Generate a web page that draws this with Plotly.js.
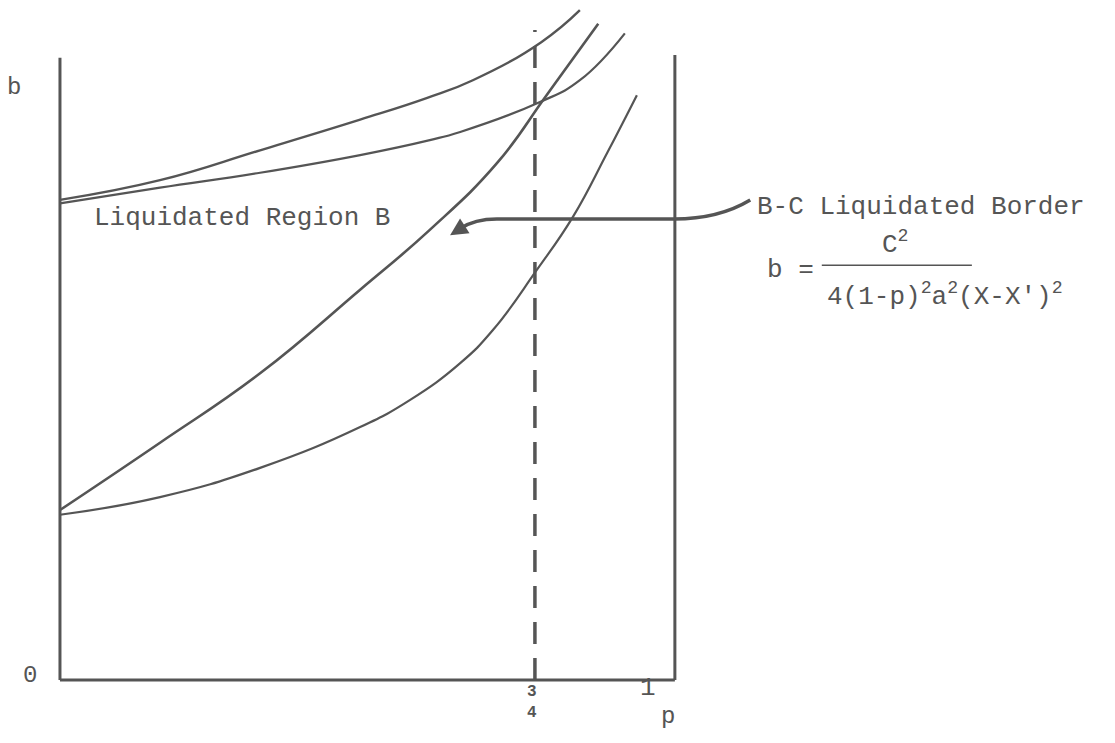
<!DOCTYPE html>
<html>
<head>
<meta charset="utf-8">
<script src="https://cdn.plot.ly/plotly-3.0.1.min.js"></script>
<style>
  html, body { margin: 0; padding: 0; background: #fff; }
  #chart { width: 1115px; height: 743px; }
</style>
</head>
<body>
<div id="chart"></div>
<script>
// schematic curves (p across, b up)
let pUpper = [0, .158, .316, .474, .580, .652, .760, .821];
let bUpper = [7.06, 7.35, 7.79, 8.24, 8.56, 8.82, 9.38, 9.85];

let pSecond = [0, .158, .316, .474, .584, .632, .758, .821, .892];
let bSecond = [7.01, 7.24, 7.46, 7.72, 7.94, 8.06, 8.50, 8.82, 9.51];

let pBorder = [0, .158, .316, .474, .584, .690, .763, .794, .850];
let bBorder = [2.50, 3.49, 4.51, 5.74, 6.62, 7.60, 8.53, 8.93, 9.65];

let pLower = [0, .158, .316, .474, .553, .632, .684, .753, .810, .864, .911];
let bLower = [2.43, 2.69, 3.12, 3.72, 4.12, 4.66, 5.15, 6.03, 6.81, 7.75, 8.60];

let pDash = 0.75;
let tickText = ['0', '3<br>4', '1'];

let ink = '#555';
let font = 'Liberation Mono, Courier New, monospace';

function curve(x, y, w) {
  return {
    x: x, y: y,
    mode: 'lines',
    type: 'scatter',
    hoverinfo: 'skip',
    line: { color: ink, width: w, shape: 'spline', smoothing: 1.3 }
  };
}

let traces = [
  curve(pUpper, bUpper, 2.4),
  curve(pSecond, bSecond, 2.2),
  curve(pBorder, bBorder, 2.6),
  curve(pLower, bLower, 2.2),
  {
    x: [pDash, pDash], y: [0, 9.56],
    mode: 'lines', type: 'scatter', hoverinfo: 'skip',
    line: { color: ink, width: 3.5, dash: '22px,14px' }
  }
];

let layout = {
  width: 1115,
  height: 743,
  margin: { l: 0, r: 0, t: 0, b: 0 },
  paper_bgcolor: '#fff',
  plot_bgcolor: '#fff',
  showlegend: false,
  xaxis: { range: [-0.0947, 1.666], visible: false, fixedrange: true },
  yaxis: { range: [-0.926, 10], visible: false, fixedrange: true },
  shapes: [
    // frame
    { type: 'line', x0: 0, x1: 0, y0: 0, y1: 9.15, line: { color: ink, width: 3 } },
    { type: 'line', x0: 0, x1: 0.971, y0: 0, y1: 0, line: { color: ink, width: 3 } },
    { type: 'line', x0: 0.971, x1: 0.971, y0: 0, y1: 9.19, line: { color: ink, width: 3 } },
    // pointer to the B-C border
    { type: 'path', path: 'M 1.09 7.06 Q 1.04 6.78 0.97 6.78 L 0.69 6.78 Q 0.655 6.78 0.632 6.64',
      line: { color: ink, width: 3.5 } },
    // fraction bar
    { type: 'line', x0: 1.203, x1: 1.44, y0: 6.10, y1: 6.10, line: { color: ink, width: 1.5 } }
  ],
  annotations: [
    { x: 0.616, y: 6.54, ax: 0.636, ay: 6.66, axref: 'x', ayref: 'y', text: '',
      showarrow: true, arrowhead: 2, arrowsize: 1, arrowwidth: 3.5, arrowcolor: ink },
    { x: -0.0726, y: 8.71, text: 'b', showarrow: false, font: { family: font, size: 24, color: ink } },
    { x: -0.047, y: 0.06, text: tickText[0], showarrow: false, font: { family: font, size: 24, color: ink } },
    { x: pDash - 0.005, y: -0.33, text: '<b>' + tickText[1] + '</b>', showarrow: false,
      font: { family: font, size: 16, color: ink } },
    { x: 0.928, y: -0.12, text: tickText[2], showarrow: false, font: { family: font, size: 26, color: ink } },
    { x: 0.960, y: -0.54, text: 'p', showarrow: false, font: { family: font, size: 24, color: ink } },
    { x: 0.0505, y: 6.79, xanchor: 'left', text: 'Liquidated Region B', showarrow: false,
      font: { family: font, size: 26, color: ink } },
    { x: 1.097, y: 6.96, xanchor: 'left', text: 'B-C Liquidated Border', showarrow: false,
      font: { family: font, size: 26, color: ink } },
    { x: 1.113, y: 6.03, xanchor: 'left', text: 'b =', showarrow: false,
      font: { family: font, size: 26, color: ink } },
    { x: 1.32, y: 6.42, text: 'C<sup>2</sup>', showarrow: false,
      font: { family: font, size: 26, color: ink } },
    { x: 1.208, y: 5.66, xanchor: 'left', text: "4(1-p)<sup>2</sup>a<sup>2</sup>(X-X')<sup>2</sup>",
      showarrow: false, font: { family: font, size: 26, color: ink } }
  ]
};

Plotly.newPlot('chart', traces, layout, { staticPlot: true, displayModeBar: false });
</script>
</body>
</html>
